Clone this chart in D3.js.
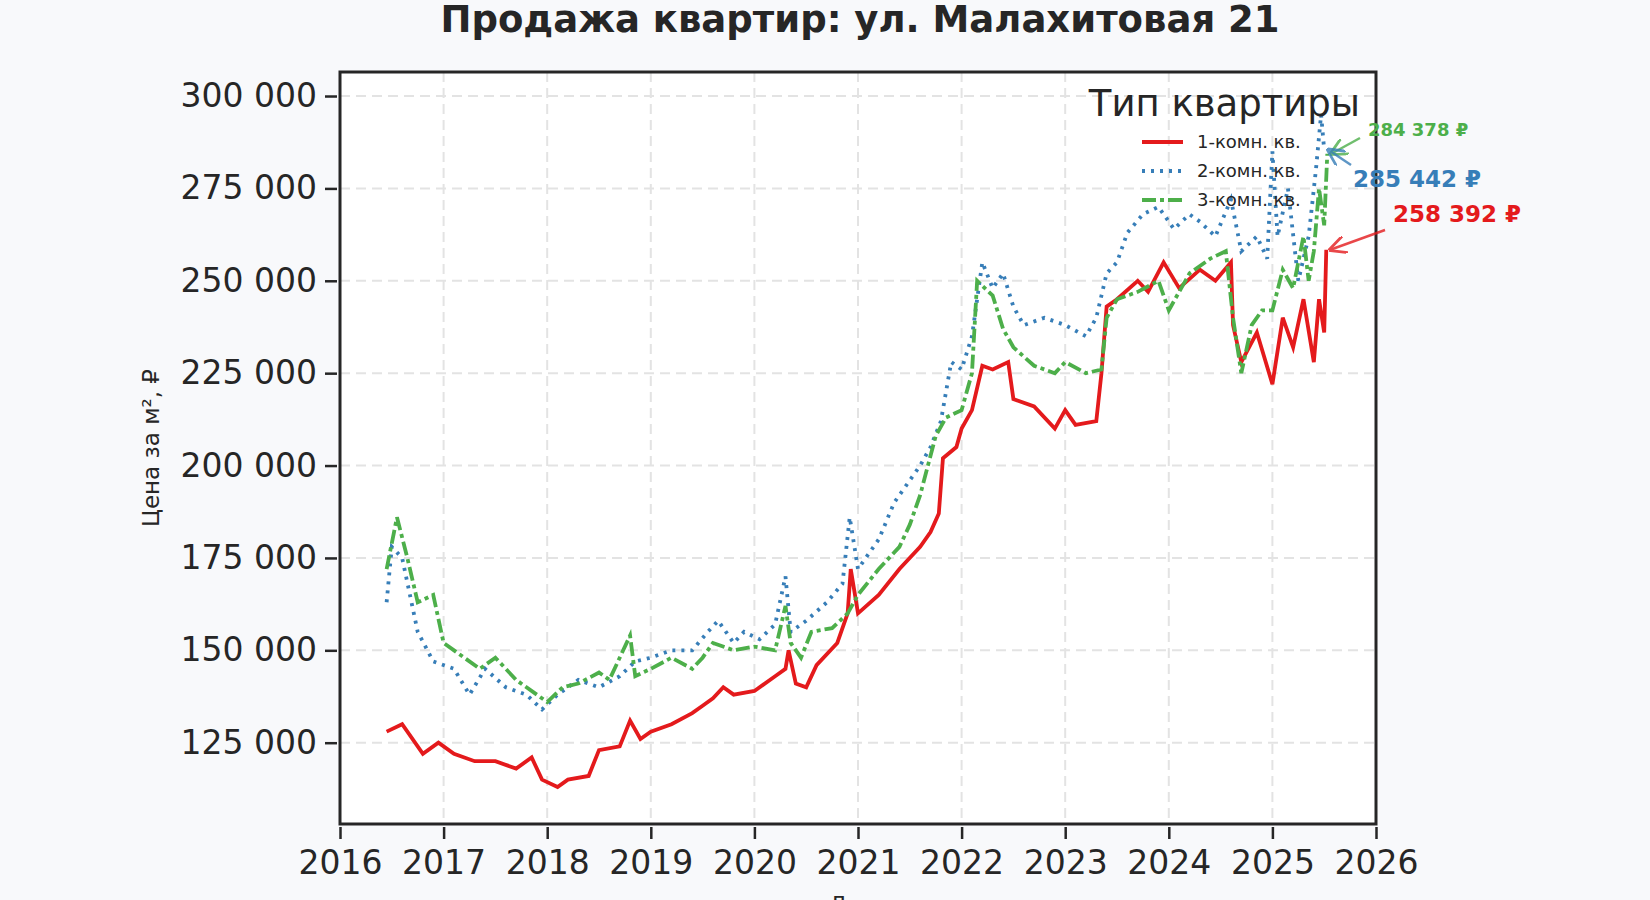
<!DOCTYPE html>
<html><head><meta charset="utf-8">
<script src="https://cdn.jsdelivr.net/npm/d3@7"></script>
<style>body{margin:0;background:#f8f9fb;font-family:"DejaVu Sans",sans-serif;}</style>
</head><body><div id="chart"></div>
<script>
// Dimensions
const WIDTH = 1650, HEIGHT = 900;
const M = {left: 340, right: 274, top: 72, bottom: 76};

// Data (year as decimal, price per m2)
const oneT = [2016.45,2016.6,2016.8,2016.95,2017.1,2017.3,2017.5,2017.7,2017.85,2017.95,2018.1,2018.2,2018.4,2018.5,2018.7,2018.8,2018.9,2019.0,2019.2,2019.4,2019.5,2019.6,2019.7,2019.8,2020.0,2020.2,2020.3,2020.33,2020.4,2020.5,2020.6,2020.8,2020.9,2020.93,2021.0,2021.2,2021.4,2021.6,2021.7,2021.78,2021.82,2021.95,2022.0,2022.1,2022.2,2022.3,2022.45,2022.5,2022.7,2022.9,2023.0,2023.1,2023.3,2023.35,2023.4,2023.5,2023.7,2023.8,2023.95,2024.1,2024.3,2024.45,2024.6,2024.62,2024.7,2024.85,2025.0,2025.1,2025.2,2025.3,2025.4,2025.45,2025.5,2025.52];
const oneV = [128,130,122,125,122,120,120,118,121,115,113,115,116,123,124,131,126,128,130,133,135,137,140,138,139,143,145,150,141,140,146,152,160,172,160,165,172,178,182,187,202,205,210,215,227,226,228,218,216,210,215,211,212,225,243,245,250,247,255,248,253,250,255,238,228,236,222,240,232,245,228,245,236,258.392];
const twoT = [2016.45,2016.5,2016.6,2016.75,2016.9,2017.1,2017.25,2017.4,2017.6,2017.8,2017.95,2018.1,2018.3,2018.5,2018.7,2018.85,2019.0,2019.2,2019.4,2019.55,2019.65,2019.8,2019.9,2020.05,2020.2,2020.3,2020.35,2020.5,2020.7,2020.85,2020.92,2021.0,2021.2,2021.35,2021.5,2021.6,2021.7,2021.8,2021.9,2022.0,2022.1,2022.2,2022.3,2022.4,2022.5,2022.6,2022.8,2023.0,2023.2,2023.3,2023.4,2023.5,2023.6,2023.75,2023.9,2024.05,2024.2,2024.3,2024.45,2024.6,2024.7,2024.85,2024.95,2025.0,2025.05,2025.15,2025.25,2025.35,2025.42,2025.47,2025.5];
const twoV = [163,178,175,155,147,145,138,145,140,138,134,138,142,140,143,147,148,150,150,155,158,152,155,153,157,170,155,158,163,168,186,172,180,190,196,200,205,212,228,226,235,255,248,252,243,238,240,238,235,240,252,255,263,268,270,264,268,266,262,272,258,262,256,285,262,275,250,262,280,295,285.442];
const threeT = [2016.45,2016.55,2016.65,2016.75,2016.9,2017.0,2017.2,2017.35,2017.5,2017.7,2017.9,2018.0,2018.15,2018.3,2018.5,2018.6,2018.8,2018.85,2019.0,2019.2,2019.4,2019.5,2019.6,2019.8,2020.0,2020.2,2020.3,2020.35,2020.45,2020.55,2020.75,2020.9,2021.0,2021.2,2021.4,2021.5,2021.6,2021.75,2021.85,2022.0,2022.1,2022.15,2022.3,2022.4,2022.5,2022.7,2022.9,2023.0,2023.2,2023.35,2023.4,2023.5,2023.7,2023.9,2024.0,2024.2,2024.4,2024.55,2024.62,2024.7,2024.8,2024.9,2025.0,2025.1,2025.2,2025.3,2025.35,2025.4,2025.45,2025.5,2025.53];
const threeV = [172,186,175,163,165,152,148,145,148,142,138,136,140,141,144,142,154,143,145,148,145,148,152,150,151,150,162,152,148,155,156,160,165,172,178,184,192,208,213,215,225,250,246,237,232,227,225,228,225,226,240,245,247,250,242,252,256,258,240,225,238,242,242,253,248,262,250,258,275,265,284.378];

const seriesNames = ["1-комн. кв.", "2-комн. кв.", "3-комн. кв."];
const colors = ["#e41a1c", "#377eb8", "#4daf4a"];
const dashes = [null, "3,6", "14,4,4,4"];
const yTicks = [125000,150000,175000,200000,225000,250000,275000,300000];
const xTicks = [2016,2017,2018,2019,2020,2021,2022,2023,2024,2025,2026];

const series = [[oneT, oneV], [twoT, twoV], [threeT, threeV]].map(([t, v]) =>
    t.map((x, i) => ({x: x, y: v[i] * 1000})));

const fmt = v => d3.format(",")(v).replace(/,/g, " ");

const svg = d3.select("#chart").append("svg")
    .attr("width", WIDTH).attr("height", HEIGHT);

const x = d3.scaleLinear().domain([2016, 2026]).range([M.left, WIDTH - M.right]);
const y = d3.scaleLinear().domain([103000, 306500]).range([HEIGHT - M.bottom, M.top]);

svg.append("rect")
    .attr("x", M.left).attr("y", M.top)
    .attr("width", x.range()[1] - M.left).attr("height", y.range()[0] - M.top)
    .attr("fill", "white");

// grid
svg.append("g").selectAll("line").data(xTicks).join("line")
    .attr("x1", d => x(d)).attr("x2", d => x(d))
    .attr("y1", M.top).attr("y2", y.range()[0])
    .attr("stroke", "#e3e3e3").attr("stroke-width", 2).attr("stroke-dasharray", "10,6");
svg.append("g").selectAll("line").data(yTicks).join("line")
    .attr("x1", M.left).attr("x2", x.range()[1])
    .attr("y1", d => y(d)).attr("y2", d => y(d))
    .attr("stroke", "#e3e3e3").attr("stroke-width", 2).attr("stroke-dasharray", "10,6");

// lines
const line = d3.line().x(d => x(d.x)).y(d => y(d.y));
series.forEach((s, i) => {
    svg.append("path").datum(s)
        .attr("d", line).attr("fill", "none")
        .attr("stroke", colors[i]).attr("stroke-width", 3.8)
        .attr("stroke-dasharray", dashes[i]);
});

// frame
svg.append("rect")
    .attr("x", M.left).attr("y", M.top)
    .attr("width", x.range()[1] - M.left).attr("height", y.range()[0] - M.top)
    .attr("fill", "none").attr("stroke", "#262626").attr("stroke-width", 3);

// axes
const xAxis = svg.append("g")
    .attr("transform", `translate(0,${y.range()[0] + 3})`)
    .call(d3.axisBottom(x).tickValues(xTicks).tickFormat(d3.format("d")).tickSize(12).tickPadding(12));
const yAxis = svg.append("g")
    .attr("transform", `translate(${M.left - 3},0)`)
    .call(d3.axisLeft(y).tickValues(yTicks).tickFormat(fmt).tickSize(12).tickPadding(8));
[xAxis, yAxis].forEach(a => {
    a.select(".domain").remove();
    a.selectAll(".tick line").attr("stroke", "#262626").attr("stroke-width", 2.5);
    a.selectAll("text").attr("fill", "#262626").style("font-size", "33px")
        .style("font-family", "DejaVu Sans");
});

// titles
svg.append("text").attr("x", 860).attr("y", 32).attr("text-anchor", "middle")
    .style("font-size", "37px").style("font-weight", "bold").attr("fill", "#262626")
    .text("Продажа квартир: ул. Малахитовая 21");
svg.append("text").attr("transform", "translate(152,448) rotate(-90)")
    .attr("text-anchor", "middle").attr("dominant-baseline", "middle")
    .style("font-size", "23px").attr("fill", "#262626").text("Цена за м², ₽");
svg.append("text").attr("x", 858).attr("y", 912).attr("text-anchor", "middle")
    .style("font-size", "22px").attr("fill", "#262626").text("Дата");

// legend
const lg = svg.append("g");
lg.append("text").attr("x", 1360).attr("y", 116).attr("text-anchor", "end")
    .style("font-size", "37px").attr("fill", "#262626").text("Тип квартиры");
seriesNames.forEach((n, i) => {
    const ly = 142 + i * 29;
    lg.append("line").attr("x1", 1142).attr("x2", 1183).attr("y1", ly).attr("y2", ly)
        .attr("stroke", colors[i]).attr("stroke-width", 3.8).attr("stroke-dasharray", dashes[i]);
    lg.append("text").attr("x", 1197).attr("y", ly + 6)
        .style("font-size", "18px").attr("fill", "#262626").text(n);
});

// end annotations
const ann = [
    {i: 2, tx: 1368, ty: 136, size: 18},
    {i: 1, tx: 1353, ty: 187, size: 23},
    {i: 0, tx: 1393, ty: 222, size: 23}
];
const defs = svg.append("defs");
ann.forEach(a => {
    const last = series[a.i][series[a.i].length - 1];
    const px = x(last.x) + 4, py = y(last.y);
    defs.append("marker").attr("id", "ar" + a.i).attr("viewBox", "0 0 10 10")
        .attr("refX", 9).attr("refY", 5).attr("markerWidth", 7).attr("markerHeight", 7)
        .attr("orient", "auto-start-reverse")
        .append("path").attr("d", "M0,0 L10,5 L0,10").attr("fill", "none")
        .attr("stroke", colors[a.i]).attr("stroke-width", 1.6);
    const sx = a.i === 1 ? a.tx - 2 : a.tx - 8;
    const sy = a.i === 0 ? a.ty + 8 : (a.i === 1 ? a.ty - 22 : a.ty + 2);
    svg.append("line").attr("x1", sx).attr("y1", sy).attr("x2", px).attr("y2", py)
        .attr("stroke", colors[a.i]).attr("stroke-width", 2.5).attr("opacity", 0.8)
        .attr("marker-end", `url(#ar${a.i})`);
    svg.append("text").attr("x", a.tx).attr("y", a.ty)
        .style("font-size", a.size + "px").style("font-weight", "bold")
        .attr("fill", colors[a.i]).text(fmt(Math.round(last.y)) + " ₽");
});
</script></body></html>
